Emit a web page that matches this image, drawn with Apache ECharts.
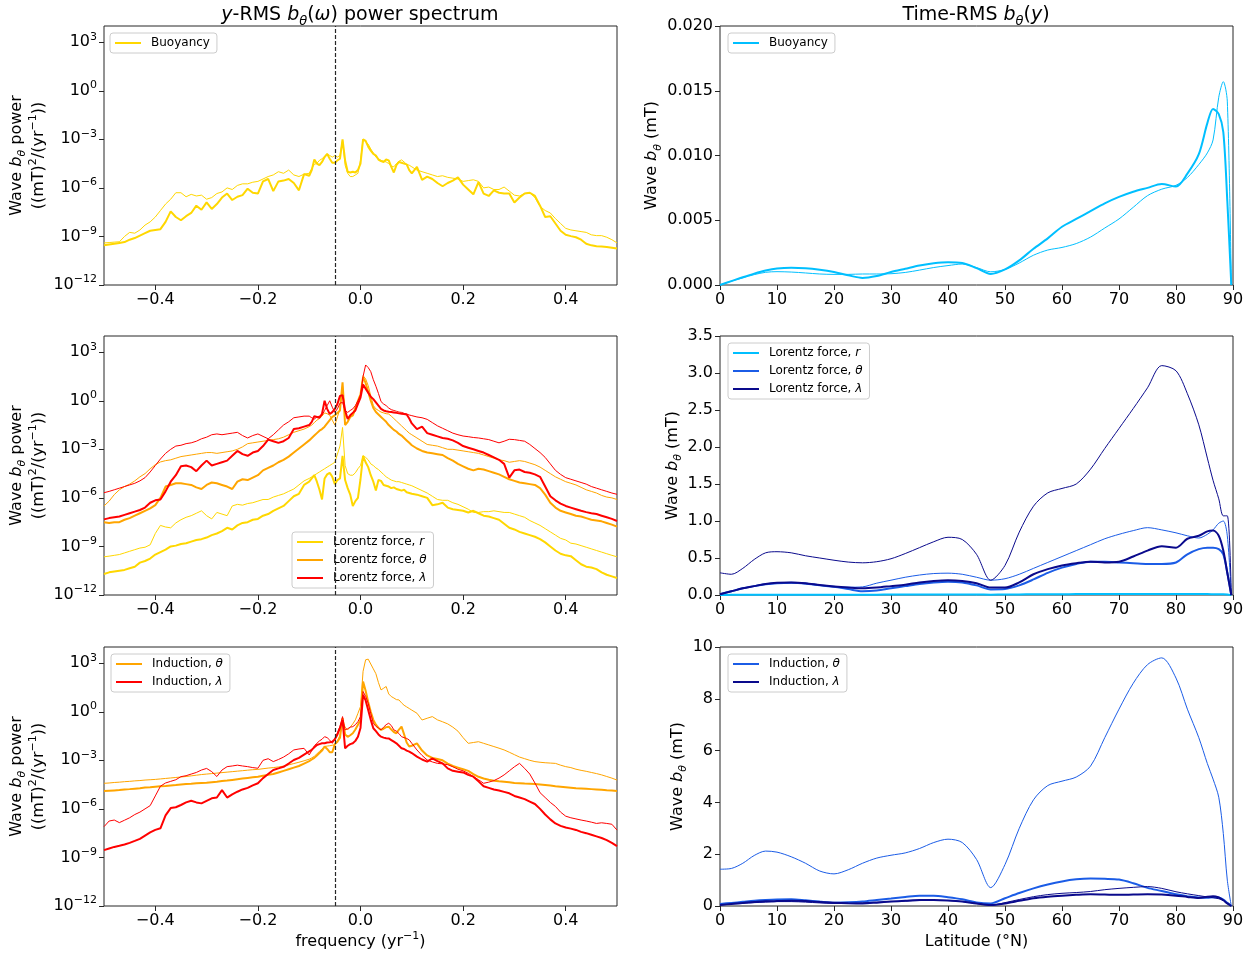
<!DOCTYPE html>
<html>
<head>
<meta charset="utf-8">
<script src="https://cdn.jsdelivr.net/npm/echarts@6/dist/echarts.min.js"></script>
<style>
  html, body { margin: 0; padding: 0; background: #fff; }
  #chart { width: 1253px; height: 953px; }
</style>
</head>
<body>
<div id="chart"></div>
<script>
// ---------------------------------------------------------------------------
// Frequency samples (yr^-1) shared by every power spectrum
const freq = [
  -0.5, -0.49, -0.48, -0.47, -0.46, -0.45, -0.44, -0.43, -0.42, -0.41, -0.4, -0.39, -0.38, -0.37, -0.36, -0.35, -0.34, -0.33, -0.32, -0.31,
  -0.3, -0.29, -0.28, -0.27, -0.26, -0.25, -0.24, -0.23, -0.22, -0.21, -0.2, -0.19, -0.18, -0.17, -0.16, -0.15, -0.14, -0.13, -0.12, -0.11, -0.1,
  -0.095, -0.09, -0.085, -0.08, -0.075, -0.07, -0.065, -0.06, -0.055, -0.05, -0.045, -0.04, -0.035, -0.03, -0.025, -0.02, -0.015, -0.01, -0.005,
  0,
  0.005, 0.01, 0.015, 0.02, 0.025, 0.03, 0.035, 0.04, 0.045, 0.05, 0.055, 0.06, 0.065, 0.07, 0.075, 0.08, 0.085, 0.09, 0.095,
  0.1, 0.11, 0.12, 0.13, 0.14, 0.15, 0.16, 0.17, 0.18, 0.19, 0.2, 0.21, 0.22, 0.23, 0.24, 0.25, 0.26, 0.27, 0.28, 0.29,
  0.3, 0.31, 0.32, 0.33, 0.34, 0.35, 0.36, 0.37, 0.38, 0.39, 0.4, 0.41, 0.42, 0.43, 0.44, 0.45, 0.46, 0.47, 0.48, 0.49, 0.5
];

// Spectral power, stored as log10 of (mT)^2/(yr^-1)
const buoyancySpecA = [
  -9.55,-9.5,-9.45,-9.4,-9.35,-9.2,-9.1,-8.95,-8.8,-8.65,-8.6,-8.55,-8.1,-7.45,-7.8,-8.0,-7.75,-7.55,-7.1,-7.35,-6.9,-7.3,-7.0,-6.6,-6.35,-6.75,-6.55,-6.45,-6.05,-6.3,-6.35,-5.6,-5.45,-6.2,-5.6,-5.55,-5.45,-5.7,-6.15,-5.15,-5.25,
  -4.9,-4.25,-4.5,-4.6,-4.4,-4.1,-3.9,-4.2,-4.45,-4.45,-4.3,-4.2,-3.0,-4.3,-5.0,-5.05,-5.0,-5.05,-4.9,-4.5,-3.0,-3.1,-3.45,-3.7,-3.9,-4.0,-4.25,-4.35,-4.4,-4.25,-4.3,-4.7,-5.05,-4.6,-4.4,-4.45,-4.5,-4.55,-4.9,
  -5.1,-4.7,-5.5,-5.3,-5.45,-5.7,-5.9,-5.7,-5.55,-5.35,-5.8,-6.1,-6.4,-5.65,-6.35,-6.5,-6.15,-6.3,-6.35,-6.35,-6.9,-6.6,-6.35,-6.3,-6.5,-7.1,-7.8,-7.75,-8.2,-8.65,-8.9,-8.98,-9.05,-9.2,-9.45,-9.55,-9.6,-9.62,-9.65,-9.7,-9.75
];
const buoyancySpecB = [
  -9.4,-9.38,-9.35,-9.33,-9.0,-8.75,-8.8,-8.6,-8.3,-8.1,-7.8,-7.4,-7.0,-6.7,-6.3,-6.3,-6.55,-6.4,-6.5,-6.45,-6.7,-6.6,-6.35,-6.25,-6.0,-6.1,-5.85,-5.75,-5.75,-5.65,-5.6,-5.45,-5.3,-5.2,-5.0,-5.1,-4.9,-5.2,-5.3,-5.15,-5.1,
  -4.8,-4.55,-4.48,-4.3,-4.2,-4.05,-3.9,-4.0,-4.1,-4.0,-4.1,-4.0,-3.05,-4.6,-5.1,-5.3,-5.3,-5.2,-5.1,-4.3,-3.0,-3.15,-3.3,-3.6,-3.85,-4.1,-4.2,-4.3,-4.35,-4.4,-4.5,-4.65,-4.7,-4.5,-4.35,-4.27,-4.4,-4.55,-4.6,
  -4.7,-4.9,-5.0,-5.1,-5.2,-5.3,-5.25,-5.35,-5.4,-5.45,-5.6,-5.55,-5.5,-5.6,-6.0,-5.95,-6.1,-6.1,-5.95,-6.2,-6.45,-6.5,-6.35,-6.3,-6.6,-7.15,-7.4,-7.55,-7.9,-8.2,-8.5,-8.6,-8.65,-8.7,-8.75,-8.9,-8.95,-8.95,-9.05,-9.2,-9.4
];
const lorentzRSpecA = [
  -10.7,-10.6,-10.55,-10.5,-10.45,-10.35,-10.25,-10.0,-9.9,-9.75,-9.5,-9.35,-9.2,-9.0,-8.95,-8.85,-8.8,-8.7,-8.6,-8.55,-8.45,-8.3,-8.2,-8.05,-7.85,-7.95,-7.7,-7.55,-7.5,-7.35,-7.3,-7.1,-7.0,-6.8,-6.65,-6.5,-6.2,-5.9,-5.75,-5.2,-5.0,
  -4.8,-4.6,-5.0,-5.5,-6.1,-4.8,-4.55,-4.45,-4.7,-5.15,-4.9,-4.8,-3.4,-4.9,-5.4,-5.8,-6.5,-6.2,-6.0,-4.85,-3.4,-3.8,-4.1,-4.6,-5.0,-5.55,-4.9,-4.95,-5.2,-5.25,-5.3,-5.4,-5.35,-5.45,-5.5,-5.55,-5.5,-5.65,-5.7,
  -5.75,-5.8,-5.9,-6.0,-6.45,-6.4,-6.3,-6.6,-6.7,-6.75,-6.8,-6.9,-6.8,-6.95,-7.1,-7.15,-7.25,-7.35,-7.6,-7.85,-7.95,-8.1,-8.2,-8.3,-8.4,-8.55,-8.75,-9.0,-9.25,-9.45,-9.55,-9.6,-9.85,-10.1,-10.25,-10.3,-10.4,-10.6,-10.75,-10.85,-10.95
];
const lorentzRSpecB = [
  -9.64,-9.6,-9.55,-9.5,-9.4,-9.3,-9.2,-9.1,-9.05,-8.9,-8.2,-7.7,-7.8,-7.85,-7.55,-7.35,-7.2,-7.1,-6.95,-6.8,-7.1,-7.3,-6.9,-7.0,-7.1,-6.5,-6.4,-6.45,-6.35,-6.3,-6.2,-6.1,-6.1,-5.95,-5.85,-5.75,-5.6,-5.45,-5.2,-4.95,-4.8,
  -4.7,-4.6,-4.5,-4.4,-4.3,-4.2,-4.1,-4.0,-3.9,-3.8,-3.3,-2.8,-1.65,-4.0,-4.5,-4.6,-4.6,-4.45,-4.2,-4.0,-3.4,-3.5,-3.65,-3.9,-4.0,-4.15,-4.25,-4.4,-4.55,-4.7,-4.8,-4.9,-4.95,-5.0,-5.0,-5.05,-5.1,-5.15,-5.2,
  -5.25,-5.4,-5.55,-5.7,-5.9,-6.1,-6.15,-6.15,-6.3,-6.4,-6.55,-6.7,-6.9,-6.9,-6.85,-6.85,-6.8,-6.85,-6.9,-6.9,-7.0,-7.1,-7.2,-7.4,-7.55,-7.7,-7.9,-8.1,-8.3,-8.5,-8.6,-8.8,-8.85,-8.95,-9.05,-9.15,-9.25,-9.35,-9.45,-9.55,-9.64
];
const lorentzThetaSpecA = [
  -7.5,-7.55,-7.5,-7.5,-7.35,-7.25,-7.1,-6.95,-6.8,-6.65,-6.45,-6.0,-5.3,-5.2,-5.1,-5.1,-5.15,-5.2,-5.35,-5.45,-5.2,-5.05,-5.1,-5.2,-5.3,-5.45,-5.0,-4.85,-4.9,-4.75,-4.6,-4.3,-4.15,-4.0,-3.8,-3.65,-3.45,-3.2,-2.95,-2.7,-2.45,
  -2.3,-2.15,-2.0,-1.85,-1.75,-1.6,-1.4,-1.2,-1.0,-0.9,-0.75,-0.6,1.14,-1.5,-1.3,-1.0,-0.9,-0.5,0.0,0.4,1.45,1.1,0.55,0.0,-0.45,-0.7,-0.85,-1.0,-1.15,-1.3,-1.5,-1.65,-1.8,-1.9,-2.05,-2.15,-2.3,-2.45,-2.6,
  -2.75,-2.95,-3.1,-3.2,-3.25,-3.3,-3.35,-3.55,-3.7,-3.9,-4.05,-4.2,-4.3,-4.2,-4.25,-4.35,-4.45,-4.55,-4.7,-4.85,-4.95,-5.05,-5.1,-5.15,-5.2,-5.4,-5.8,-6.3,-6.6,-6.8,-6.9,-7.0,-7.1,-7.15,-7.25,-7.35,-7.4,-7.45,-7.55,-7.65,-7.78
];
const lorentzThetaSpecB = [
  -6.5,-6.2,-5.8,-5.5,-5.3,-5.15,-4.95,-4.7,-4.5,-4.2,-3.95,-3.78,-3.7,-3.65,-3.55,-3.45,-3.4,-3.35,-3.3,-3.25,-3.2,-3.2,-3.25,-3.2,-3.15,-3.1,-3.0,-2.85,-2.65,-2.6,-2.55,-2.5,-2.45,-2.4,-2.35,-2.25,-2.1,-1.95,-1.85,-1.75,-1.6,
  -1.5,-1.35,-1.2,-1.1,-0.95,-0.75,-0.8,-0.9,-1.2,-1.5,-1.0,-0.5,0.93,-0.9,-1.1,-0.9,-0.75,-0.4,0.0,0.35,1.55,1.35,0.93,0.3,-0.3,-0.5,-0.6,-0.7,-0.75,-0.8,-0.82,-0.95,-1.1,-1.25,-1.4,-1.55,-1.7,-1.85,-2.0,
  -2.1,-2.3,-2.5,-2.7,-2.75,-2.8,-2.9,-3.0,-3.0,-3.05,-3.1,-3.15,-3.2,-3.25,-3.35,-3.45,-3.55,-3.65,-3.7,-3.8,-3.75,-3.7,-3.75,-3.85,-3.95,-4.1,-4.3,-4.5,-4.7,-4.85,-5.0,-5.1,-5.2,-5.35,-5.5,-5.6,-5.7,-5.85,-5.95,-6.0,-6.1
];
const lorentzLambdaSpecA = [
  -7.33,-7.25,-7.2,-7.15,-7.05,-6.95,-6.85,-6.75,-6.6,-6.3,-6.15,-6.1,-5.6,-5.0,-4.6,-4.05,-4.0,-4.1,-4.35,-4.0,-3.7,-4.0,-3.9,-3.8,-3.7,-3.4,-3.1,-3.3,-3.4,-3.2,-3.1,-2.8,-2.4,-2.5,-2.6,-2.5,-2.3,-1.75,-1.7,-1.6,-1.5,
  -1.3,-0.95,-1.0,-1.05,-0.8,0.0,-0.5,-0.82,-0.7,-0.5,-0.2,0.3,0.35,-0.6,-1.13,-0.9,-0.75,-0.6,-0.2,0.2,1.0,0.75,0.5,0.25,0.1,-0.1,-0.3,-0.5,-0.6,-0.65,-0.68,-0.7,-0.72,-0.75,-0.78,-0.8,-0.82,-0.85,-1.1,
  -1.4,-1.75,-1.6,-2.0,-2.1,-2.2,-2.3,-2.35,-2.45,-2.6,-2.8,-2.9,-3.0,-3.1,-3.2,-3.35,-3.5,-3.65,-3.9,-4.75,-4.3,-4.25,-4.4,-4.45,-4.55,-4.7,-5.3,-5.9,-6.15,-6.35,-6.5,-6.6,-6.7,-6.8,-6.88,-6.95,-7.0,-7.1,-7.2,-7.3,-7.43
];
const lorentzLambdaSpecB = [
  -5.68,-5.6,-5.5,-5.4,-5.3,-5.2,-5.1,-4.95,-4.75,-4.4,-4.0,-3.6,-3.25,-3.0,-2.8,-2.75,-2.65,-2.6,-2.5,-2.35,-2.25,-2.1,-2.05,-2.1,-2.05,-2.0,-1.95,-2.15,-2.3,-2.15,-2.05,-2.2,-2.35,-2.1,-1.8,-1.5,-1.3,-1.05,-1.0,-0.95,-0.95,
  -1.05,-1.13,-1.0,-0.95,-0.9,-0.6,-0.3,0.0,-0.4,-0.72,-0.5,-0.15,-0.1,-0.6,-0.72,-0.6,-0.5,-0.3,0.0,0.35,1.5,2.21,2.05,1.8,1.3,0.9,0.45,-0.05,-0.2,-0.3,-0.45,-0.55,-0.6,-0.65,-0.7,-0.72,-0.78,-0.82,-0.88,
  -0.92,-1.0,-1.05,-1.15,-1.35,-1.55,-1.7,-1.85,-2.0,-2.1,-2.18,-2.22,-2.27,-2.3,-2.35,-2.4,-2.5,-2.6,-2.5,-2.38,-2.4,-2.45,-2.5,-2.7,-2.95,-3.2,-3.5,-3.9,-4.3,-4.55,-4.75,-4.85,-4.95,-5.05,-5.15,-5.3,-5.4,-5.5,-5.6,-5.7,-5.78
];
const inductionThetaSpecA = [
  -4.9,-4.88,-4.86,-4.84,-4.8,-4.78,-4.75,-4.72,-4.68,-4.66,-4.63,-4.6,-4.58,-4.55,-4.53,-4.5,-4.47,-4.45,-4.42,-4.4,-4.38,-4.35,-4.32,-4.28,-4.25,-4.21,-4.17,-4.13,-4.09,-4.05,-4.01,-3.95,-3.9,-3.85,-3.75,-3.65,-3.55,-3.45,-3.35,-3.2,-3.05,
  -2.95,-2.85,-2.7,-2.55,-2.4,-2.15,-2.3,-2.5,-2.5,-2.0,-1.85,-1.6,-0.4,-1.4,-1.55,-1.45,-1.33,-1.1,-0.8,-0.5,1.87,1.3,0.6,0.0,-0.5,-0.8,-1.0,-1.12,-1.05,-0.95,-0.92,-1.1,-1.25,-1.33,-1.1,-0.92,-1.4,-1.9,-2.15,
  -2.1,-1.95,-2.4,-2.7,-2.85,-2.92,-3.0,-3.2,-3.35,-3.45,-3.55,-3.65,-3.85,-4.02,-4.12,-4.2,-4.26,-4.3,-4.33,-4.36,-4.4,-4.42,-4.44,-4.45,-4.47,-4.5,-4.53,-4.56,-4.6,-4.63,-4.66,-4.69,-4.72,-4.74,-4.76,-4.78,-4.8,-4.82,-4.85,-4.87,-4.9
];
const inductionThetaSpecB = [
  -4.42,-4.4,-4.37,-4.35,-4.32,-4.3,-4.27,-4.25,-4.22,-4.2,-4.18,-4.15,-4.12,-4.09,-4.06,-4.03,-4.0,-3.96,-3.92,-3.88,-3.85,-3.82,-3.79,-3.76,-3.73,-3.7,-3.67,-3.64,-3.61,-3.58,-3.56,-3.52,-3.48,-3.45,-3.41,-3.36,-3.28,-3.2,-3.12,-3.03,-2.93,
  -2.85,-2.75,-2.6,-2.45,-2.3,-2.15,-2.12,-2.1,-2.07,-2.05,-1.8,-1.45,-0.61,-0.95,-1.12,-0.95,-0.75,-0.5,-0.1,0.32,2.5,3.21,3.25,2.95,2.65,2.35,1.8,1.35,1.45,1.56,1.1,0.94,0.85,0.75,0.73,0.55,0.4,0.3,0.2,
  0.1,-0.09,-0.51,-0.4,-0.3,-0.5,-0.62,-0.75,-0.95,-1.2,-1.6,-1.95,-1.9,-1.85,-1.95,-2.05,-2.15,-2.25,-2.36,-2.5,-2.65,-2.8,-2.9,-3.0,-3.08,-3.12,-3.15,-3.17,-3.19,-3.3,-3.39,-3.45,-3.55,-3.62,-3.68,-3.75,-3.82,-3.9,-4.0,-4.1,-4.22
];
const inductionLambdaSpecA = [
  -8.55,-8.45,-8.35,-8.28,-8.2,-8.1,-7.98,-7.85,-7.65,-7.45,-7.3,-7.2,-6.4,-5.95,-5.9,-5.76,-5.6,-5.5,-5.6,-5.66,-5.5,-5.35,-5.3,-4.84,-5.3,-5.1,-4.94,-4.8,-4.7,-4.55,-4.42,-4.1,-3.85,-3.6,-3.5,-3.4,-3.2,-2.98,-2.85,-2.65,-2.45,
  -2.35,-2.2,-2.05,-2.0,-1.95,-1.95,-1.9,-1.88,-1.85,-1.7,-1.4,-1.0,-0.51,-2.26,-2.1,-2.0,-1.95,-1.8,-1.54,-1.0,1.04,0.7,0.11,-0.5,-1.02,-1.2,-1.4,-1.54,-1.6,-1.64,-1.65,-1.75,-1.85,-1.95,-2.1,-2.26,-2.3,-2.4,-2.46,
  -2.55,-2.77,-2.95,-3.08,-2.88,-3.05,-3.19,-3.5,-3.65,-3.7,-3.75,-3.9,-4.01,-4.3,-4.6,-4.7,-4.8,-4.86,-4.95,-5.04,-5.2,-5.3,-5.4,-5.55,-5.7,-6.0,-6.35,-6.65,-6.9,-7.05,-7.15,-7.22,-7.3,-7.42,-7.5,-7.6,-7.7,-7.8,-7.93,-8.1,-8.3
];
const inductionLambdaSpecB = [
  -7.1,-6.75,-6.69,-6.85,-6.7,-6.55,-6.35,-6.2,-6.0,-5.8,-5.2,-4.6,-4.4,-4.3,-4.2,-4.01,-3.95,-3.85,-3.75,-3.6,-3.5,-3.7,-4.0,-3.6,-3.39,-3.35,-3.3,-3.35,-3.39,-3.45,-3.49,-3.0,-2.9,-3.08,-2.95,-2.8,-2.6,-2.36,-2.3,-2.26,-2.67,
  -2.4,-2.1,-1.95,-1.8,-1.7,-1.54,-1.6,-1.75,-1.95,-1.7,-1.3,-0.9,-0.3,-1.12,-1.05,-0.95,-0.92,-0.8,-0.61,-0.3,1.25,0.95,0.53,-0.1,-0.71,-0.9,-1.0,-1.12,-0.95,-0.8,-0.71,-0.85,-1.12,-1.2,-1.35,-1.54,-1.6,-1.65,-1.74,
  -1.95,-2.36,-2.7,-2.98,-3.1,-3.19,-3.22,-3.27,-3.4,-3.55,-3.65,-3.8,-4.01,-4.2,-4.42,-4.35,-4.25,-4.1,-3.9,-3.65,-3.4,-3.19,-3.5,-3.85,-4.4,-5.0,-5.3,-5.6,-5.85,-6.2,-6.45,-6.55,-6.62,-6.69,-6.75,-6.82,-6.9,-6.86,-6.9,-6.95,-7.31
];

// Latitude samples (deg N) shared by every time-RMS profile
const latitude = [0, 2, 4, 6, 8, 10, 12.5, 15, 17.5, 20, 22.5, 25, 27.5, 30, 32.5, 35, 37.5, 40, 42.5, 45, 47.5, 50,
  52.5, 55, 57.5, 60, 62.5, 65, 67.5, 70, 72.5, 75, 77.5, 80, 82, 84, 85.5, 86.5, 87.5, 88.3, 89, 89.7];

// Time-RMS wave b_theta (mT)
const buoyancyProfA = [0, 0.0003, 0.0006, 0.00088, 0.00112, 0.00128, 0.00134, 0.0013, 0.00118, 0.001, 0.00075, 0.00055, 0.0007, 0.001, 0.00125, 0.0015, 0.00168, 0.00176, 0.0017, 0.0013, 0.00085, 0.0012,
  0.0019, 0.0028, 0.0036, 0.0045, 0.0051, 0.0057, 0.0063, 0.0068, 0.0072, 0.0075, 0.0078, 0.0076, 0.0086, 0.0101, 0.0125, 0.0136, 0.0132, 0.0118, 0.0065, 0];
const buoyancyProfB = [0, 0.0003, 0.00055, 0.0008, 0.00098, 0.00103, 0.001, 0.00093, 0.00085, 0.00082, 0.00082, 0.00085, 0.00085, 0.00087, 0.00097, 0.00115, 0.00135, 0.0015, 0.00162, 0.00135, 0.00102, 0.0012,
  0.0017, 0.0023, 0.0027, 0.0029, 0.0032, 0.0037, 0.0044, 0.0051, 0.006, 0.0069, 0.0074, 0.0077, 0.0083, 0.0093, 0.0102, 0.0112, 0.0145, 0.0157, 0.0142, 0];
const lorentzRProf = [0, 0.002, 0.003, 0.004, 0.004, 0.005, 0.005, 0.005, 0.005, 0.005, 0.005, 0.005, 0.005, 0.006, 0.006, 0.007, 0.007, 0.007, 0.007, 0.006, 0.005, 0.006,
  0.008, 0.009, 0.01, 0.011, 0.012, 0.013, 0.014, 0.014, 0.015, 0.015, 0.015, 0.014, 0.013, 0.012, 0.012, 0.011, 0.01, 0.009, 0.006, 0];
const lorentzThetaProfA = [0.01, 0.05, 0.09, 0.12, 0.145, 0.16, 0.165, 0.155, 0.13, 0.11, 0.08, 0.05, 0.06, 0.09, 0.12, 0.15, 0.17, 0.18, 0.17, 0.13, 0.075, 0.08,
  0.13, 0.21, 0.3, 0.37, 0.42, 0.45, 0.45, 0.44, 0.43, 0.42, 0.42, 0.44, 0.55, 0.62, 0.64, 0.64, 0.62, 0.55, 0.3, 0];
const lorentzThetaProfB = [0.01, 0.05, 0.09, 0.12, 0.145, 0.16, 0.165, 0.15, 0.13, 0.11, 0.105, 0.11, 0.16, 0.2, 0.24, 0.27, 0.29, 0.295, 0.28, 0.24, 0.2, 0.22,
  0.28, 0.36, 0.44, 0.52, 0.6, 0.68, 0.76, 0.82, 0.87, 0.91, 0.88, 0.84, 0.8, 0.77, 0.82, 0.88, 0.97, 1.0, 0.8, 0];
const lorentzLambdaProfA = [0.01, 0.05, 0.09, 0.12, 0.15, 0.165, 0.17, 0.16, 0.135, 0.115, 0.1, 0.09, 0.1, 0.12, 0.14, 0.17, 0.19, 0.2, 0.19, 0.16, 0.1, 0.1,
  0.17, 0.28, 0.35, 0.4, 0.43, 0.45, 0.44, 0.45, 0.52, 0.6, 0.66, 0.64, 0.76, 0.8, 0.86, 0.87, 0.8, 0.6, 0.3, 0];
const lorentzLambdaProfB = [0.3, 0.28, 0.36, 0.48, 0.57, 0.585, 0.57, 0.53, 0.5, 0.47, 0.445, 0.435, 0.45, 0.49, 0.56, 0.64, 0.72, 0.78, 0.75, 0.55, 0.2, 0.4,
  0.85, 1.2, 1.38, 1.44, 1.5, 1.7, 1.98, 2.25, 2.52, 2.8, 3.1, 3.03, 2.72, 2.3, 1.85, 1.55, 1.3, 1.07, 1.07, 0];
const inductionThetaProfA = [0.08, 0.12, 0.16, 0.2, 0.23, 0.25, 0.26, 0.22, 0.17, 0.13, 0.14, 0.17, 0.23, 0.29, 0.35, 0.4, 0.4, 0.34, 0.26, 0.14, 0.1, 0.3,
  0.5, 0.68, 0.83, 0.95, 1.03, 1.06, 1.05, 1.02, 0.88, 0.7, 0.58, 0.45, 0.38, 0.33, 0.32, 0.34, 0.33, 0.25, 0.12, 0];
const inductionThetaProfB = [1.42, 1.45, 1.65, 1.95, 2.12, 2.08, 1.9, 1.65, 1.35, 1.24, 1.4, 1.65, 1.85, 1.96, 2.05, 2.22, 2.45, 2.58, 2.45, 1.8, 0.71, 1.6,
  3.0, 4.1, 4.65, 4.82, 4.98, 5.4, 6.5, 7.6, 8.6, 9.32, 9.58, 8.8, 7.6, 6.5, 5.5, 4.9, 4.2, 2.8, 1.0, 0];
const inductionLambdaProfA = [0.04, 0.08, 0.12, 0.15, 0.18, 0.19, 0.2, 0.19, 0.15, 0.13, 0.11, 0.1, 0.13, 0.17, 0.2, 0.23, 0.23, 0.21, 0.17, 0.1, 0.04, 0.1,
  0.2, 0.3, 0.36, 0.4, 0.43, 0.45, 0.44, 0.43, 0.44, 0.45, 0.44, 0.4, 0.35, 0.31, 0.36, 0.38, 0.33, 0.22, 0.1, 0];
const inductionLambdaProfB = [0.04, 0.07, 0.1, 0.13, 0.15, 0.17, 0.17, 0.15, 0.12, 0.1, 0.1, 0.12, 0.15, 0.17, 0.19, 0.21, 0.22, 0.21, 0.17, 0.1, 0.03, 0.13,
  0.25, 0.36, 0.44, 0.49, 0.52, 0.56, 0.63, 0.68, 0.72, 0.75, 0.68, 0.55, 0.47, 0.4, 0.35, 0.32, 0.28, 0.22, 0.1, 0];

// Axis ticks
const freqTicks = [-0.4, -0.2, 0, 0.2, 0.4];
const powerTicks = [1e-12, 1e-9, 1e-6, 1e-3, 1, 1e3];
const cutoffFreq = -0.05;   // dashed reference frequency

// ---------------------------------------------------------------------------
const FONT = "'DejaVu Sans', sans-serif";
const INK = '#000';
const FRAME = '#262626';
const C = {
  gold: '#FFD700', orange: '#FFA500', red: '#FF0000',
  sky: '#00BFFF', blue: '#1B5CE6', navy: '#0A0A8C'
};
const THICK = 2, THIN = 1;

const GRID_LEFT = [104, 720];
const GRID_TOP = [26, 336, 647];
const GRID_W = 513, GRID_H = 259;

const rich16 = {
  n: { fontSize: 16, lineHeight: 22 },
  i: { fontSize: 16, lineHeight: 22, fontStyle: 'italic' },
  sub: { fontSize: 11, fontStyle: 'italic', verticalAlign: 'bottom' },
  sup: { fontSize: 11, verticalAlign: 'top' }
};
const richTitle = {
  n: { fontSize: 19, lineHeight: 26 },
  i: { fontSize: 19, lineHeight: 26, fontStyle: 'italic' },
  sub: { fontSize: 13, fontStyle: 'italic', verticalAlign: 'bottom' }
};

const grids = [];
for (let r = 0; r < 3; r++) {
  for (let c = 0; c < 2; c++) {
    grids.push({ left: GRID_LEFT[c], top: GRID_TOP[r], width: GRID_W, height: GRID_H,
      show: true, borderColor: FRAME, borderWidth: 1, backgroundColor: 'transparent' });
  }
}

const hiddenLine = { show: false, onZero: false };
const tickStyle = { show: true, length: 5, inside: false, lineStyle: { color: FRAME, width: 1 } };
const labelBase = { fontFamily: FONT, fontSize: 16, color: INK };

function signed(v, d) {
  const s = Math.abs(v).toFixed(d);
  return (v < -1e-12 ? '\u2212' : '') + s;
}

function powerLabel(v) {
  const e = Math.round(Math.log10(v));
  if (e % 3 !== 0) return '';
  return '{b|10}{e|' + (e < 0 ? '\u2212' : '') + Math.abs(e) + '}';
}

const xAxes = [], yAxes = [];
const profileY = [
  { max: 0.02, interval: 0.005, dec: 3, gap: 56 },
  { max: 3.5, interval: 0.5, dec: 1, gap: 36 },
  { max: 10, interval: 2, dec: 0, gap: 31 }
];
for (let r = 0; r < 3; r++) {
  const bottomRow = r === 2;
  // spectrum panel
  xAxes.push({
    type: 'value', gridIndex: 2 * r, min: -0.5, max: 0.5,
    axisLine: hiddenLine, splitLine: { show: false },
    axisTick: Object.assign({ customValues: freqTicks }, tickStyle),
    axisLabel: Object.assign({ customValues: freqTicks, margin: 7, formatter: v => signed(v, 1) }, labelBase),
    name: bottomRow ? '{n|frequency (yr}{sup|\u22121}{n|)}' : '',
    nameLocation: 'middle', nameGap: 25,
    nameTextStyle: { fontFamily: FONT, fontSize: 16, color: INK, rich: rich16 }
  });
  yAxes.push({
    type: 'log', gridIndex: 2 * r, min: 1e-12, max: 1e4, logBase: 10,
    axisLine: hiddenLine, splitLine: { show: false }, minorTick: { show: false },
    axisTick: Object.assign({ customValues: powerTicks }, tickStyle),
    axisLabel: Object.assign({ customValues: powerTicks, margin: 7, formatter: powerLabel,
      rich: { b: { fontSize: 16, lineHeight: 22 }, e: { fontSize: 11, verticalAlign: 'top' } } }, labelBase),
    name: '{n|Wave }{i|b}{sub|\u03b8}{n| power}\n{n|((mT)}{sup|2}{n|/(yr}{sup|\u22121}{n|))}',
    nameLocation: 'middle', nameGap: 53, nameRotate: 90,
    nameTextStyle: { fontFamily: FONT, fontSize: 16, color: INK, lineHeight: 22, rich: rich16 }
  });
  // latitude panel
  const py = profileY[r];
  xAxes.push({
    type: 'value', gridIndex: 2 * r + 1, min: 0, max: 90, interval: 10,
    axisLine: hiddenLine, splitLine: { show: false },
    axisTick: tickStyle,
    axisLabel: Object.assign({ margin: 7, showMinLabel: true, showMaxLabel: true }, labelBase),
    name: bottomRow ? '{n|Latitude (\u00b0N)}' : '',
    nameLocation: 'middle', nameGap: 25,
    nameTextStyle: { fontFamily: FONT, fontSize: 16, color: INK, rich: rich16 }
  });
  yAxes.push({
    type: 'value', gridIndex: 2 * r + 1, min: 0, max: py.max, interval: py.interval,
    axisLine: hiddenLine, splitLine: { show: false },
    axisTick: tickStyle,
    axisLabel: Object.assign({ margin: 7, formatter: v => v.toFixed(py.dec) }, labelBase),
    name: '{n|Wave }{i|b}{sub|\u03b8}{n| (mT)}',
    nameLocation: 'middle', nameGap: py.gap, nameRotate: 90,
    nameTextStyle: { fontFamily: FONT, fontSize: 16, color: INK, lineHeight: 22, rich: rich16 }
  });
}

function spectrum(name, logs, color, width, gi, extra) {
  return Object.assign({
    type: 'line', name, xAxisIndex: gi, yAxisIndex: gi,
    data: freq.map((f, i) => [f, Math.pow(10, logs[i])]),
    symbol: 'none', showSymbol: false, smooth: false,
    lineStyle: { color, width }, itemStyle: { color },
    silent: true, animation: false, emphasis: { disabled: true }
  }, extra || {});
}
function profile(name, vals, color, width, gi) {
  return {
    type: 'line', name, xAxisIndex: gi, yAxisIndex: gi,
    data: latitude.map((y, i) => [y, vals[i]]),
    symbol: 'none', showSymbol: false, smooth: 0.3,
    lineStyle: { color, width }, itemStyle: { color },
    silent: true, animation: false, emphasis: { disabled: true }
  };
}
const cutoff = {
  markLine: {
    silent: true, symbol: ['none', 'none'], label: { show: false },
    lineStyle: { color: FRAME, type: [4, 2], width: 1.2 },
    data: [{ xAxis: cutoffFreq }], animation: false
  }
};

const series = [
  spectrum('spec-buoy-b', buoyancySpecB, C.gold, THIN, 0, cutoff),
  spectrum('spec-buoy', buoyancySpecA, C.gold, THICK, 0),
  profile('prof-buoy-b', buoyancyProfB, C.sky, THIN, 1),
  profile('prof-buoy', buoyancyProfA, C.sky, THICK, 1),

  spectrum('spec-lr-b', lorentzRSpecB, C.gold, THIN, 2, cutoff),
  spectrum('spec-lr', lorentzRSpecA, C.gold, THICK, 2),
  spectrum('spec-lt-b', lorentzThetaSpecB, C.orange, THIN, 2),
  spectrum('spec-lt', lorentzThetaSpecA, C.orange, THICK, 2),
  spectrum('spec-ll-b', lorentzLambdaSpecB, C.red, THIN, 2),
  spectrum('spec-ll', lorentzLambdaSpecA, C.red, THICK, 2),
  profile('prof-lr', lorentzRProf, C.sky, THICK, 3),
  profile('prof-lt-b', lorentzThetaProfB, C.blue, THIN, 3),
  profile('prof-lt', lorentzThetaProfA, C.blue, THICK, 3),
  profile('prof-ll-b', lorentzLambdaProfB, C.navy, THIN, 3),
  profile('prof-ll', lorentzLambdaProfA, C.navy, THICK, 3),

  spectrum('spec-it-b', inductionThetaSpecB, C.orange, THIN, 4, cutoff),
  spectrum('spec-it', inductionThetaSpecA, C.orange, THICK, 4),
  spectrum('spec-il-b', inductionLambdaSpecB, C.red, THIN, 4),
  spectrum('spec-il', inductionLambdaSpecA, C.red, THICK, 4),
  profile('prof-it-b', inductionThetaProfB, C.blue, THIN, 5),
  profile('prof-it', inductionThetaProfA, C.blue, THICK, 5),
  profile('prof-il-b', inductionLambdaProfB, C.navy, THIN, 5),
  profile('prof-il', inductionLambdaProfA, C.navy, THICK, 5)
];

const LEGEND_TEXT = {
  'spec-buoy': 'Buoyancy', 'prof-buoy': 'Buoyancy',
  'spec-lr': 'Lorentz force, {i|r}', 'spec-lt': 'Lorentz force, {i|\u03b8}', 'spec-ll': 'Lorentz force, {i|\u03bb}',
  'prof-lr': 'Lorentz force, {i|r}', 'prof-lt': 'Lorentz force, {i|\u03b8}', 'prof-ll': 'Lorentz force, {i|\u03bb}',
  'spec-it': 'Induction, {i|\u03b8}', 'spec-il': 'Induction, {i|\u03bb}',
  'prof-it': 'Induction, {i|\u03b8}', 'prof-il': 'Induction, {i|\u03bb}'
};
function legendBox(names, left, top) {
  return {
    show: true, data: names, left, top, orient: 'vertical',
    icon: 'rect', itemWidth: 26, itemHeight: 2, itemGap: 4, padding: [3, 7, 3, 5],
    backgroundColor: 'rgba(255,255,255,0.8)', borderColor: '#cccccc', borderWidth: 1, borderRadius: 3,
    selectedMode: false, formatter: n => LEGEND_TEXT[n],
    textStyle: { fontFamily: FONT, fontSize: 12, color: INK, lineHeight: 14, padding: [0, 0, 0, 5],
      rich: { i: { fontSize: 12, lineHeight: 14, fontStyle: 'italic' } } }
  };
}

const option = {
  animation: false,
  backgroundColor: '#fff',
  textStyle: { fontFamily: FONT },
  title: [
    { text: '{i|y}{n|-RMS }{i|b}{sub|\u03b8}{n|(}{i|\u03c9}{n|) power spectrum}', left: 360, top: 2, padding: 0,
      textAlign: 'center', textStyle: { fontFamily: FONT, fontWeight: 'normal', fontSize: 19, color: INK, rich: richTitle } },
    { text: '{n|Time-RMS }{i|b}{sub|\u03b8}{n|(}{i|y}{n|)}', left: 976, top: 2, padding: 0,
      textAlign: 'center', textStyle: { fontFamily: FONT, fontWeight: 'normal', fontSize: 19, color: INK, rich: richTitle } }
  ],
  legend: [
    legendBox(['spec-buoy'], 110, 33),
    legendBox(['prof-buoy'], 728, 33),
    legendBox(['spec-lr', 'spec-lt', 'spec-ll'], 292, 532),
    legendBox(['prof-lr', 'prof-lt', 'prof-ll'], 728, 343),
    legendBox(['spec-it', 'spec-il'], 111, 654),
    legendBox(['prof-it', 'prof-il'], 728, 654)
  ],
  grid: grids,
  xAxis: xAxes,
  yAxis: yAxes,
  series
};

const chart = echarts.init(document.getElementById('chart'), null, { renderer: 'canvas' });
chart.setOption(option);
</script>
</body>
</html>
